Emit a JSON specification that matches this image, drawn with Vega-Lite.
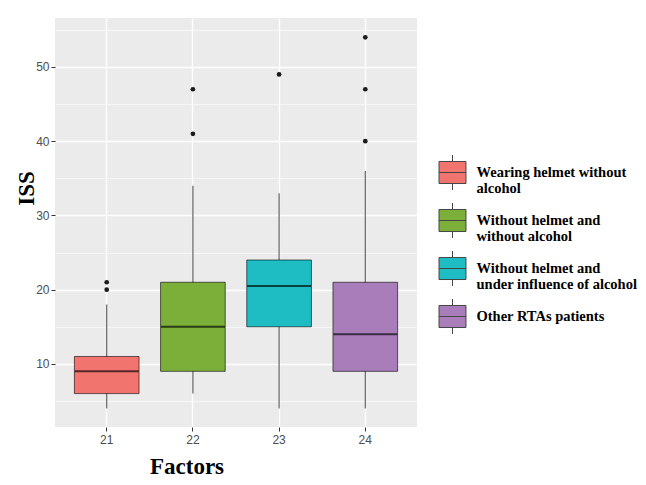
{
  "$schema": "https://vega.github.io/schema/vega-lite/v6.json",
  "autosize": {"type": "none"},
  "width": 362,
  "height": 409,
  "padding": {"left": 55, "top": 18, "right": 229, "bottom": 58},
  "background": "white",
  "config": {
    "view": {"fill": "#EBEBEB", "stroke": null},
    "axis": {
      "labelFont": "Liberation Sans",
      "labelFontSize": 12,
      "labelColor": "#4D4D4D",
      "tickColor": "#333333",
      "tickSize": 4,
      "tickWidth": 1,
      "domain": false,
      "gridColor": "#FFFFFF",
      "gridWidth": 1.3,
      "gridOpacity": 1,
      "titleFont": "Liberation Serif",
      "titleFontWeight": "bold",
      "titleFontSize": 23,
      "titleColor": "#000000"
    }
  },
  "datasets": {
    "boxes": [
      {"cat": "21", "group": "Wearing helmet without alcohol", "lower": 4, "q1": 6, "median": 9, "q3": 11, "upper": 18},
      {"cat": "22", "group": "Without helmet and without alcohol", "lower": 6, "q1": 9, "median": 15, "q3": 21, "upper": 34},
      {"cat": "23", "group": "Without helmet and under influence of alcohol", "lower": 4, "q1": 15, "median": 20.5, "q3": 24, "upper": 33},
      {"cat": "24", "group": "Other RTAs patients", "lower": 4, "q1": 9, "median": 14, "q3": 21, "upper": 36}
    ],
    "outliers": [
      {"cat": "21", "value": 20},
      {"cat": "21", "value": 21},
      {"cat": "22", "value": 41},
      {"cat": "22", "value": 47},
      {"cat": "23", "value": 49},
      {"cat": "24", "value": 40},
      {"cat": "24", "value": 47},
      {"cat": "24", "value": 54}
    ]
  },
  "resolve": {"axis": {"y": "independent"}},
  "layer": [
    {
      "data": {"name": "boxes"},
      "mark": {"type": "rule", "color": "#555555", "strokeWidth": 1.1},
      "encoding": {
        "x": {
          "field": "cat", "type": "ordinal", "sort": ["21", "22", "23", "24"],
          "scale": {"type": "band", "paddingInner": 0.25, "paddingOuter": 0.225},
          "axis": {"title": "Factors", "labelAngle": 0, "labelPadding": 3, "bandPosition": 0.5, "grid": true,
                   "titleX": 131.5, "titleY": 46, "titleAnchor": null, "titleAlign": "center", "titleBaseline": "alphabetic"}
        },
        "y": {
          "field": "lower", "type": "quantitative",
          "scale": {"domain": [1.5, 56.6], "nice": false, "zero": false},
          "axis": {"orient": "right", "values": [5, 15, 25, 35, 45, 55], "grid": true, "gridWidth": 0.6,
                   "labels": false, "ticks": false, "domain": false, "title": null}
        },
        "y2": {"field": "upper"}
      }
    },
    {
      "data": {"name": "boxes"},
      "mark": {"type": "bar", "stroke": "#000000", "strokeOpacity": 0.6, "strokeWidth": 1},
      "encoding": {
        "x": {"field": "cat", "type": "ordinal", "sort": ["21", "22", "23", "24"]},
        "y": {
          "field": "q1", "type": "quantitative",
          "axis": {"orient": "left", "values": [10, 20, 30, 40, 50], "grid": true, "labelPadding": 2,
                   "title": "ISS", "titleAngle": -90, "titleX": -22, "titleY": 170, "titleAlign": "center", "titleBaseline": "alphabetic"}
        },
        "y2": {"field": "q3"},
        "color": {
          "field": "group", "type": "nominal",
          "scale": {
            "domain": ["Wearing helmet without alcohol", "Without helmet and without alcohol", "Without helmet and under influence of alcohol", "Other RTAs patients"],
            "range": ["#F2746E", "#7CAE3A", "#1EBDC4", "#A87DBA"]
          },
          "legend": {
            "title": null,
            "orient": "none",
            "legendX": 379.5,
            "legendY": 136.5,
            "padding": 0,
            "symbolType": "M-0.77,-0.63H0.77V0.63H-0.77ZM-0.77,0H0.77M0,-0.63V-1M0,0.63V1",
            "symbolSize": 1225,
            "symbolStrokeColor": "#444444",
            "symbolStrokeWidth": 1,
            "symbolOpacity": 1,
            "rowPadding": 5,
            "labelOffset": 6,
            "labelFont": "Liberation Serif",
            "labelFontWeight": "bold",
            "labelFontSize": 14.5,
            "labelColor": "#000000",
            "labelLineHeight": 18,
            "labelLimit": 300,
            "labelBaseline": "middle",
            "labelExpr": "datum.label == 'Wearing helmet without alcohol' ? ['Wearing helmet without', 'alcohol'] : datum.label == 'Without helmet and without alcohol' ? ['Without helmet and', 'without alcohol'] : datum.label == 'Without helmet and under influence of alcohol' ? ['Without helmet and', 'under influence of alcohol'] : datum.label"
          }
        }
      }
    },
    {
      "data": {"name": "boxes"},
      "mark": {"type": "tick", "color": "#000000", "opacity": 0.65, "thickness": 2, "size": 64},
      "encoding": {
        "x": {"field": "cat", "type": "ordinal", "sort": ["21", "22", "23", "24"]},
        "y": {"field": "median", "type": "quantitative", "axis": null}
      }
    },
    {
      "data": {"name": "outliers"},
      "mark": {"type": "point", "filled": true, "color": "#1A1A1A", "opacity": 1, "size": 22},
      "encoding": {
        "x": {"field": "cat", "type": "ordinal", "sort": ["21", "22", "23", "24"]},
        "y": {"field": "value", "type": "quantitative", "axis": null}
      }
    }
  ]
}
